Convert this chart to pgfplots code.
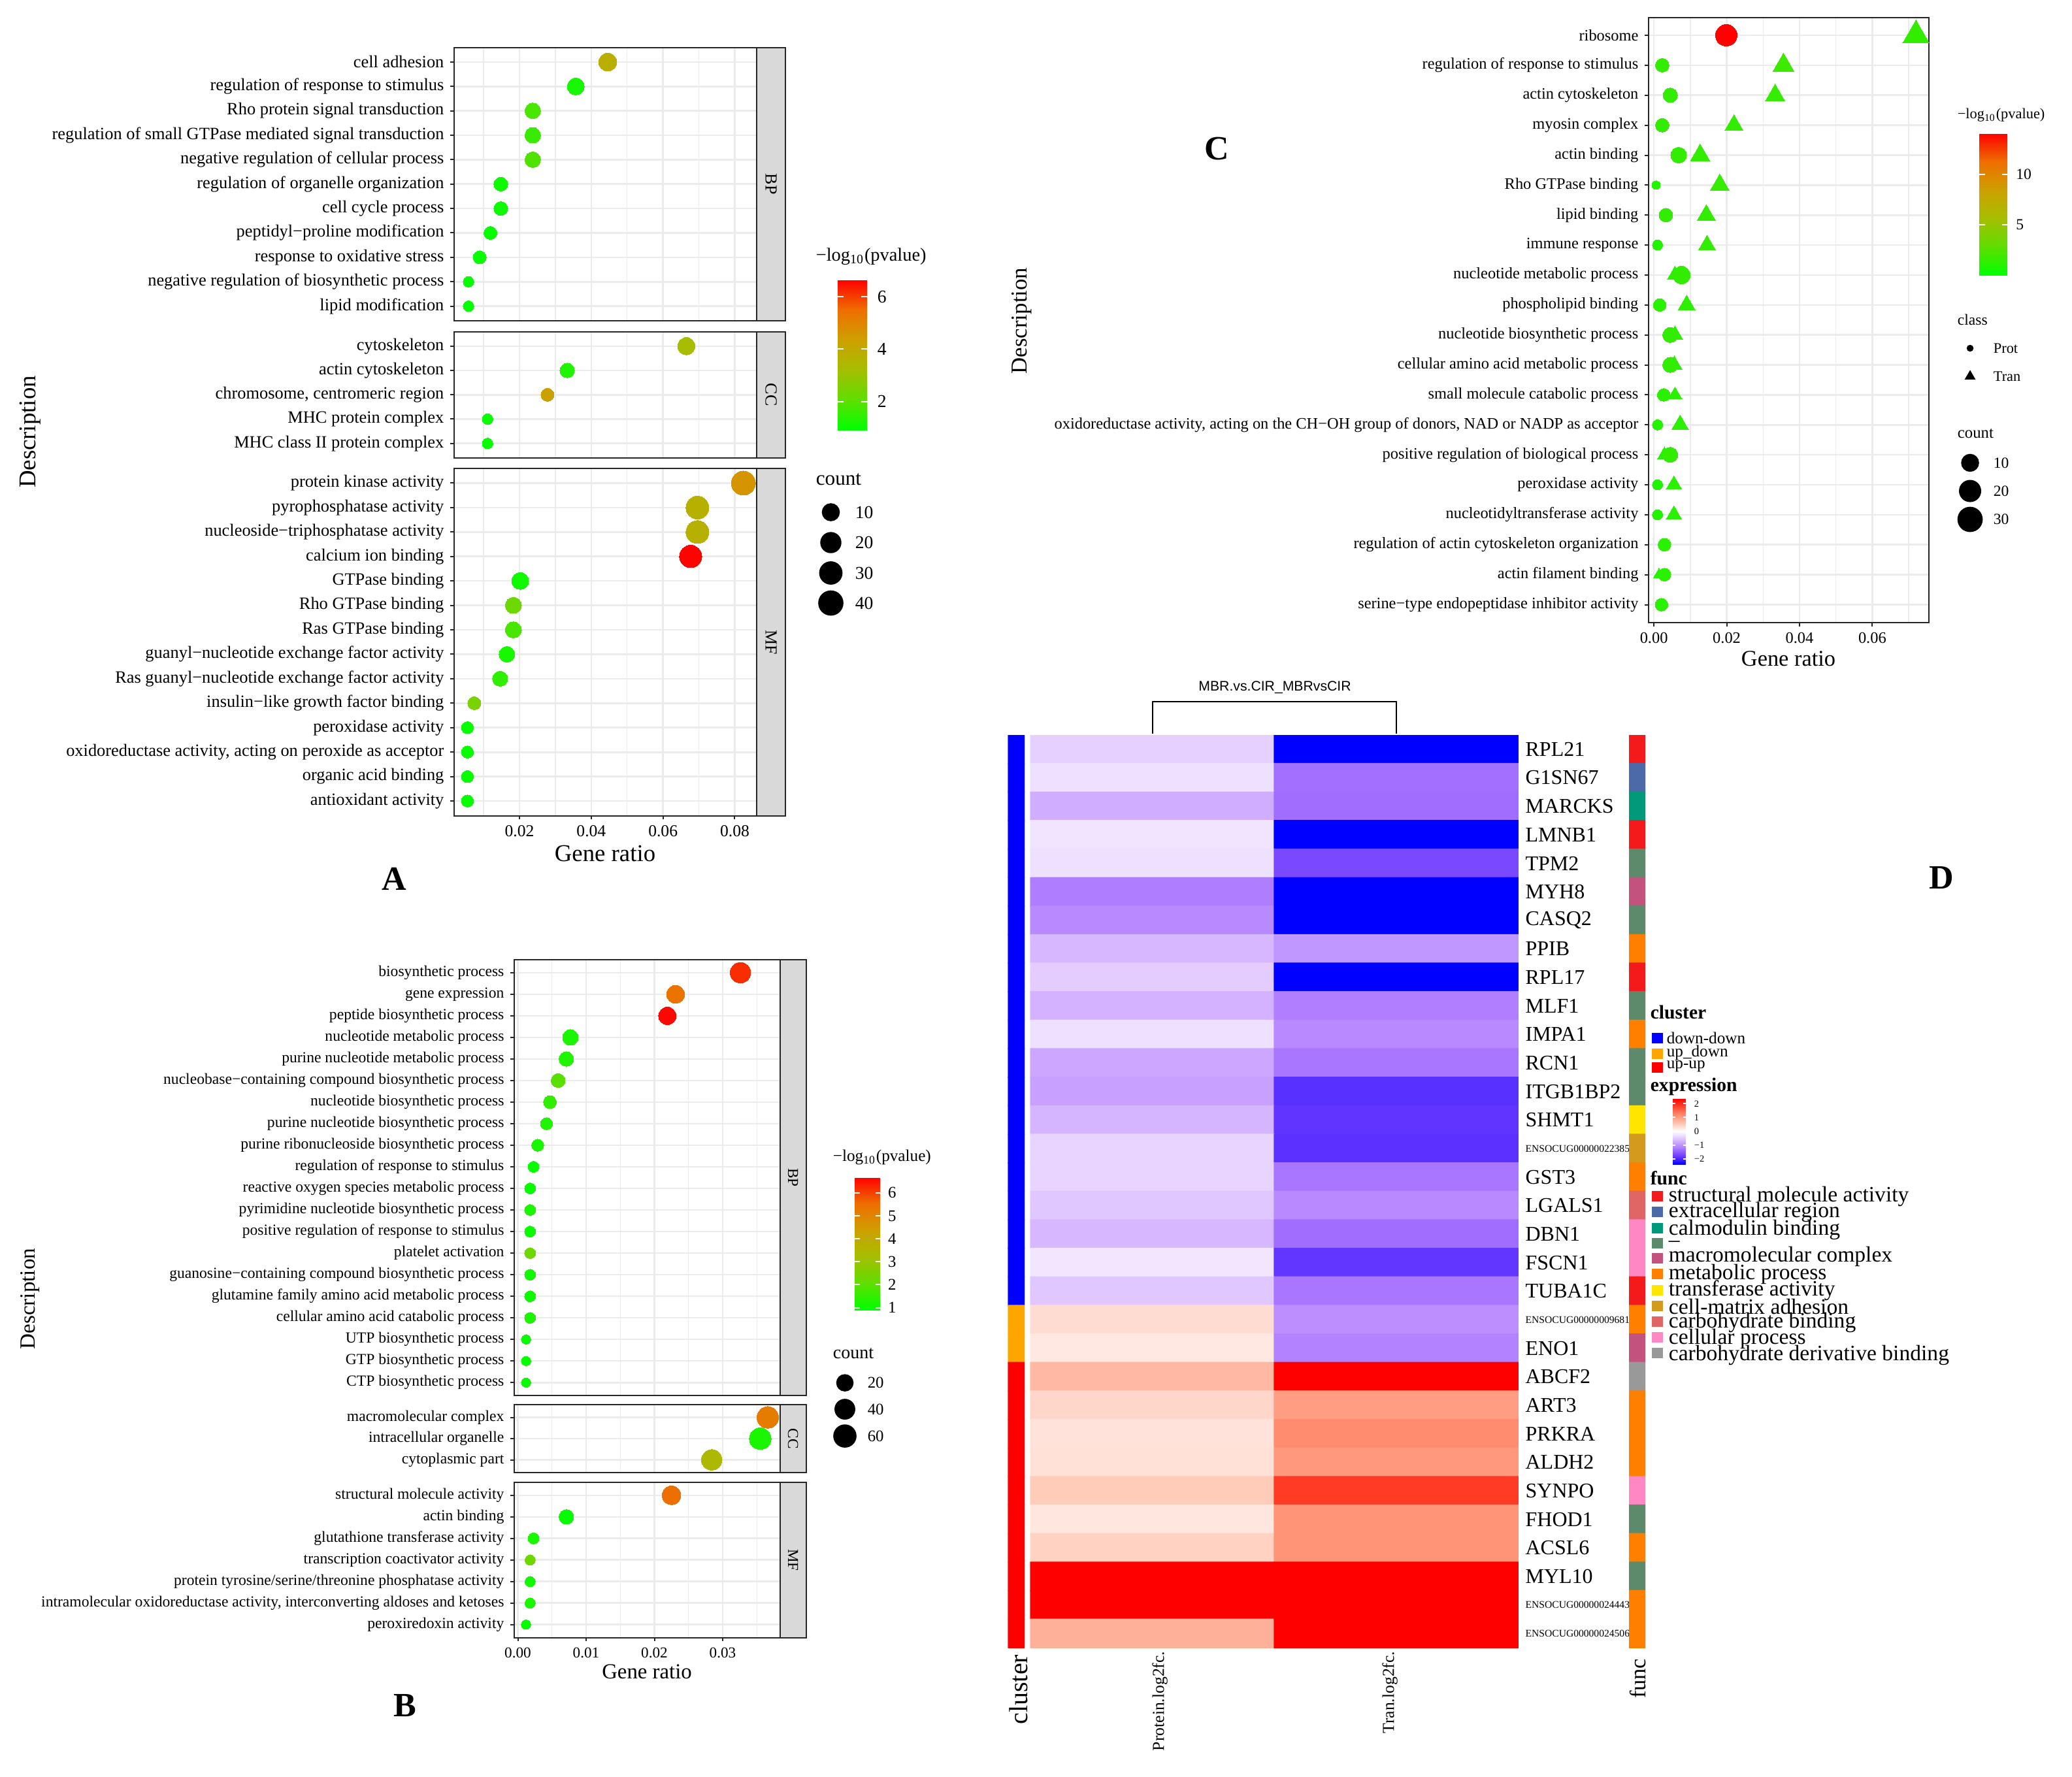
\documentclass[border=0pt]{standalone}
\usepackage{pgfplots}
\usepackage{pgfplotstable}
\pgfplotsset{compat=1.18}
\usepackage{fontspec}
\setmainfont{Liberation Serif}
\newfontfamily\sansf{Liberation Sans}
\newcommand\fs[1]{\fontsize{#1}{#1}\selectfont}
\newcommand\ens{\fs{3.9}}

\definecolor{stripgray}{HTML}{D9D9D9}
\definecolor{gridgray}{HTML}{EBEBEB}
\definecolor{cDown}{HTML}{0000FF}
\definecolor{cUpdown}{HTML}{FFA500}
\definecolor{cUp}{HTML}{FF0000}
\definecolor{fStruct}{HTML}{F41A1C}
\definecolor{fExtra}{HTML}{4D6AA8}
\definecolor{fCalm}{HTML}{00997A}
\definecolor{fDash}{HTML}{5E8A6C}
\definecolor{fMacro}{HTML}{C4527F}
\definecolor{fMeta}{HTML}{FF7F00}
\definecolor{fTrans}{HTML}{FFE500}
\definecolor{fCell}{HTML}{D49A1E}
\definecolor{fCarb}{HTML}{E06666}
\definecolor{fCellp}{HTML}{FF88C4}
\definecolor{fCarbd}{HTML}{999999}

\pgfplotsset{
  scaled ticks=false,
  colormap={hm}{rgb255=(0,0,255) rgb255=(110,60,255) rgb255=(175,125,255) rgb255=(220,190,255)
    rgb255=(255,255,255) rgb255=(255,195,175) rgb255=(255,140,110) rgb255=(255,70,45) rgb255=(255,0,0)},
  colormap={gr}{rgb255=(0,255,0) rgb255=(95,222,0) rgb255=(165,190,0) rgb255=(205,160,0)
    rgb255=(238,110,0) rgb255=(255,0,0)},
  dotpanel/.style={scale only axis, anchor=north west, y dir=reverse, colormap name=gr,
    axis line style={black!85, line width=0.5pt},
    xmajorgrids, xminorgrids, ymajorgrids,
    major grid style={gridgray, line width=0.65pt},
    minor grid style={gridgray, line width=0.35pt},
    tick pos=left, tick align=outside,
    tick style={black!85, line width=0.5pt},
    major tick length=1.4pt, minor tick length=0pt,
    ymin=0.4,
    yticklabel style={inner sep=0pt, xshift=-2.3pt},
    xticklabel style={inner sep=0pt, yshift=-2.2pt}},
  nox/.style={xticklabels={,,,,,}, xtick style={draw=none}},
  dots/.style n args={4}{scatter, only marks, mark=#1, point meta=\thisrow{p},
    scatter/use mapped color={draw=mapped color, fill=mapped color},
    mark options={line width=0pt},
    visualization depends on={\thisrow{n} \as \cnt},
    scatter/@pre marker code/.append style={/tikz/mark size={#4*0.125*(#2+#3*\cnt^0.35)}}},
  cbar/.style={hide axis, scale only axis, anchor=north west, xmin=0, xmax=1, ymin=0, ymax=1, colorbar},
  cbarstyle/.style={at={(parent axis.north west)}, anchor=north west, xshift=0pt,
    axis line style={draw=none}, axis on top, tick align=inside, ytick pos=both,
    yticklabel pos=right, ytick style={white, line width=0.5pt},
    yticklabel style={inner sep=0pt, anchor=west}}
}

% panel A: gene ratio, count, -log10(pvalue)
\pgfplotstableread{
x y n p
0.0446 1 13 3.8
0.0357 2 10 1.2
0.0237 3 7 1.8
0.0237 4 7 1.6
0.0237 5 7 1.9
0.0148 6 4 1.1
0.0148 7 4 1.1
0.0119 8 3 1.0
0.0089 9 3 1.0
0.0058 10 1 1.0
0.0058 11 1 1.0
}\tabAbp
\pgfplotstableread{
x y n p
0.0665 1 11 3.3
0.0333 2 5 1.3
0.0278 3 3 4.3
0.0111 4 1 1.0
0.0111 5 1 1.0
}\tabAcc
\pgfplotstableread{
x y n p
0.0824 1 40 4.6
0.0696 2 33 3.7
0.0696 3 33 3.7
0.0677 4 30 6.6
0.0202 5 10 1.1
0.0183 6 8 2.3
0.0183 7 8 1.8
0.0165 8 7 1.2
0.0146 9 6 1.5
0.0074 10 3 2.5
0.0055 11 2 1.0
0.0055 12 2 1.0
0.0055 13 2 1.0
0.0055 14 2 1.0
}\tabAmf

% panel B
\pgfplotstableread{
x y n p
0.0326 1 46 6.2
0.0231 2 29 5.4
0.0219 3 26 6.6
0.0077 4 17 1.2
0.0071 5 13 1.3
0.0059 6 11 2.0
0.0047 7 8 1.5
0.0042 8 6 1.3
0.0029 9 6 1.2
0.0023 10 4 1.0
0.0018 11 4 1.0
0.0018 12 4 1.2
0.0018 13 4 1.0
0.0018 14 4 2.3
0.0018 15 4 1.1
0.0018 16 4 1.1
0.0018 17 4 1.2
0.0012 18 2 1.0
0.0012 19 2 1.0
0.0012 20 2 1.0
}\tabBbp
\pgfplotstableread{
x y n p
0.0366 1 56 5.2
0.0355 2 56 1.2
0.0284 3 46 3.4
}\tabBcc
\pgfplotstableread{
x y n p
0.0225 1 33 5.5
0.0071 2 13 1.0
0.0023 3 4 1.2
0.0018 4 3 2.3
0.0018 5 3 1.1
0.0018 6 3 1.2
0.0012 7 2 1.0
}\tabBmf

% panel C: Prot (circles) and Tran (triangles)
\pgfplotstableread{
x y n p
0.0199 1 21 14.0
0.0023 2 5 1.5
0.0045 3 6 1.5
0.0023 4 5 1.5
0.0068 5 8 1.5
0.0006 6 1 1.0
0.0033 7 5 1.5
0.0010 8 2 1.0
0.0076 9 11 1.5
0.0016 10 4 1.2
0.0045 11 7 1.5
0.0045 12 7 1.5
0.0027 13 4 1.2
0.0010 14 2 1.0
0.0045 15 7 1.5
0.0010 16 2 1.0
0.0010 17 2 1.0
0.0029 18 4 1.2
0.0029 19 4 1.2
0.0021 20 4 1.2
}\tabCprot
\pgfplotstableread{
x y n p
0.0720 1 16 1.5
0.0356 2 8 1.8
0.0333 3 6 1.6
0.0220 4 5 1.5
0.0127 5 6 1.5
0.0181 6 6 1.6
0.0144 7 5 1.5
0.0146 8 4 1.5
0.0058 9 3 1.2
0.0090 10 4 1.3
0.0058 11 3 1.2
0.0056 12 3 1.2
0.0058 13 2 1.2
0.0072 14 4 1.3
0.0029 15 2 1.0
0.0055 16 3 1.2
0.0055 17 3 1.2
0.0014 19 1 1.0
}\tabCtran

% panel D: log2 fold changes (col 1 protein, col 2 transcript)
\pgfplotstableread{
x y v
1 1 -0.36
2 1 -2
1 2 -0.24
2 2 -1.10
1 3 -0.63
2 3 -1.12
1 4 -0.21
2 4 -2
1 5 -0.24
2 5 -1.41
1 6 -1.00
2 6 -2
1 7 -0.90
2 7 -2
1 8 -0.55
2 8 -0.81
1 9 -0.39
2 9 -2
1 10 -0.59
2 10 -0.99
1 11 -0.24
2 11 -0.90
1 12 -0.68
2 12 -1.05
1 13 -0.72
2 13 -1.60
1 14 -0.57
2 14 -1.56
1 15 -0.33
2 15 -1.59
1 16 -0.33
2 16 -1.05
1 17 -0.43
2 17 -0.90
1 18 -0.55
2 18 -1.12
1 19 -0.19
2 19 -1.55
1 20 -0.43
2 20 -1.05
1 21 0.29
2 21 -0.86
1 22 0.19
2 22 -0.95
1 23 0.60
2 23 2
1 24 0.34
2 24 0.85
1 25 0.24
2 25 1.00
1 26 0.25
2 26 0.89
1 27 0.43
2 27 1.59
1 28 0.21
2 28 0.93
1 29 0.38
2 29 0.93
1 30 2
2 30 2
1 31 2
2 31 2
1 32 0.67
2 32 2
}\tabDhm
\pgfplotstableread{
x y c
1 1 color=cDown
2 1 color=cDown
1 2 color=cDown
2 2 color=cDown
1 3 color=cDown
2 3 color=cDown
1 4 color=cDown
2 4 color=cDown
1 5 color=cDown
2 5 color=cDown
1 6 color=cDown
2 6 color=cDown
1 7 color=cDown
2 7 color=cDown
1 8 color=cDown
2 8 color=cDown
1 9 color=cDown
2 9 color=cDown
1 10 color=cDown
2 10 color=cDown
1 11 color=cDown
2 11 color=cDown
1 12 color=cDown
2 12 color=cDown
1 13 color=cDown
2 13 color=cDown
1 14 color=cDown
2 14 color=cDown
1 15 color=cDown
2 15 color=cDown
1 16 color=cDown
2 16 color=cDown
1 17 color=cDown
2 17 color=cDown
1 18 color=cDown
2 18 color=cDown
1 19 color=cDown
2 19 color=cDown
1 20 color=cDown
2 20 color=cDown
1 21 color=cUpdown
2 21 color=cUpdown
1 22 color=cUpdown
2 22 color=cUpdown
1 23 color=cUp
2 23 color=cUp
1 24 color=cUp
2 24 color=cUp
1 25 color=cUp
2 25 color=cUp
1 26 color=cUp
2 26 color=cUp
1 27 color=cUp
2 27 color=cUp
1 28 color=cUp
2 28 color=cUp
1 29 color=cUp
2 29 color=cUp
1 30 color=cUp
2 30 color=cUp
1 31 color=cUp
2 31 color=cUp
1 32 color=cUp
2 32 color=cUp
}\tabDcl
\pgfplotstableread{
x y c
1 1 color=fStruct
2 1 color=fStruct
1 2 color=fExtra
2 2 color=fExtra
1 3 color=fCalm
2 3 color=fCalm
1 4 color=fStruct
2 4 color=fStruct
1 5 color=fDash
2 5 color=fDash
1 6 color=fMacro
2 6 color=fMacro
1 7 color=fDash
2 7 color=fDash
1 8 color=fMeta
2 8 color=fMeta
1 9 color=fStruct
2 9 color=fStruct
1 10 color=fDash
2 10 color=fDash
1 11 color=fMeta
2 11 color=fMeta
1 12 color=fDash
2 12 color=fDash
1 13 color=fDash
2 13 color=fDash
1 14 color=fTrans
2 14 color=fTrans
1 15 color=fCell
2 15 color=fCell
1 16 color=fMeta
2 16 color=fMeta
1 17 color=fCarb
2 17 color=fCarb
1 18 color=fCellp
2 18 color=fCellp
1 19 color=fCellp
2 19 color=fCellp
1 20 color=fStruct
2 20 color=fStruct
1 21 color=fMeta
2 21 color=fMeta
1 22 color=fMacro
2 22 color=fMacro
1 23 color=fCarbd
2 23 color=fCarbd
1 24 color=fMeta
2 24 color=fMeta
1 25 color=fMeta
2 25 color=fMeta
1 26 color=fMeta
2 26 color=fMeta
1 27 color=fCellp
2 27 color=fCellp
1 28 color=fDash
2 28 color=fDash
1 29 color=fMeta
2 29 color=fMeta
1 30 color=fDash
2 30 color=fDash
1 31 color=fMeta
2 31 color=fMeta
1 32 color=fMeta
2 32 color=fMeta
}\tabDfn

\begin{document}
\begin{tikzpicture}
\path[use as bounding box] (0pt,0pt) rectangle (792.75pt,-680pt);

%% ---------------- A ----------------
\pgfplotsset{Acommon/.style={dotpanel, width=115.75pt, xmin=0.00178, xmax=0.0861,
  xtick={0.02,0.04,0.06,0.08}, minor xtick={0.01,0.03,0.05,0.07},
  point meta min=0.92, point meta max=6.65, yticklabel style={font=\fs{6.6}}}}
\begin{axis}[Acommon, nox, at={(173.75pt,-18.125pt)}, height=104.625pt, ymax=11.6, ytick={1,...,11},
  yticklabels={cell adhesion, regulation of response to stimulus, Rho protein signal transduction,
  regulation of small GTPase mediated signal transduction, negative regulation of cellular process,
  regulation of organelle organization, cell cycle process, peptidyl−proline modification,
  response to oxidative stress, negative regulation of biosynthetic process, lipid modification}]
\addplot[dots={*}{8.4}{7.86}{1}] table {\tabAbp};
\end{axis}
\begin{axis}[Acommon, nox, at={(173.75pt,-126.875pt)}, height=48.375pt, ymax=5.6, ytick={1,...,5},
  yticklabels={cytoskeleton, actin cytoskeleton, {chromosome, centromeric region},
  MHC protein complex, MHC class II protein complex}]
\addplot[dots={*}{8.4}{7.86}{1}] table {\tabAcc};
\end{axis}
\begin{axis}[Acommon, at={(173.75pt,-179.25pt)}, height=132.875pt, ymax=14.6, ytick={1,...,14},
  xticklabels={0.02,0.04,0.06,0.08}, xticklabel style={font=\fs{6.4}},
  yticklabels={protein kinase activity, pyrophosphatase activity, nucleoside−triphosphatase activity,
  calcium ion binding, GTPase binding, Rho GTPase binding, Ras GTPase binding,
  guanyl−nucleotide exchange factor activity, Ras guanyl−nucleotide exchange factor activity,
  insulin−like growth factor binding, peroxidase activity,
  {oxidoreductase activity, acting on peroxide as acceptor}, organic acid binding, antioxidant activity}]
\addplot[dots={*}{8.4}{7.86}{1}] table {\tabAmf};
\end{axis}
\begin{axis}[cbar, at={(312pt,-107pt)}, width=11.25pt, height=57.5pt, colormap name=gr,
  point meta min=0.92, point meta max=6.65,
  colorbar style={cbarstyle, width=11.25pt, height=57.5pt, major tick length=2.2pt,
    ytick={2,4,6}, yticklabels={2,4,6}, yticklabel style={font=\fs{6.9}, xshift=3.7pt}}]
\addplot[draw=none] coordinates {(0,0)};
\end{axis}

%% ---------------- B ----------------
\pgfplotsset{Bcommon/.style={dotpanel, width=101.75pt, xmin=-0.00053, xmax=0.03842,
  xtick={0,0.01,0.02,0.03}, minor xtick={0.005,0.015,0.025,0.035},
  point meta min=0.9, point meta max=6.68, yticklabel style={font=\fs{5.9}}}}
\begin{axis}[Bcommon, nox, at={(196.75pt,-367.25pt)}, height=166.75pt, ymax=20.6, ytick={1,...,20},
  yticklabels={biosynthetic process, gene expression, peptide biosynthetic process,
  nucleotide metabolic process, purine nucleotide metabolic process,
  nucleobase−containing compound biosynthetic process, nucleotide biosynthetic process,
  purine nucleotide biosynthetic process, purine ribonucleoside biosynthetic process,
  regulation of response to stimulus, reactive oxygen species metabolic process,
  pyrimidine nucleotide biosynthetic process, positive regulation of response to stimulus,
  platelet activation, guanosine−containing compound biosynthetic process,
  glutamine family amino acid metabolic process, cellular amino acid catabolic process,
  UTP biosynthetic process, GTP biosynthetic process, CTP biosynthetic process}]
\addplot[dots={*}{5.8}{6.72}{1}] table {\tabBbp};
\end{axis}
\begin{axis}[Bcommon, nox, at={(196.75pt,-537.5pt)}, height=26pt, ymax=3.6, ytick={1,2,3},
  yticklabels={macromolecular complex, intracellular organelle, cytoplasmic part}]
\addplot[dots={*}{5.8}{6.72}{1}] table {\tabBcc};
\end{axis}
\begin{axis}[Bcommon, at={(196.75pt,-567.25pt)}, height=59.375pt, ymax=7.6, ytick={1,...,7},
  xticklabels={0.00,0.01,0.02,0.03}, xticklabel style={font=\fs{5.8}},
  yticklabels={structural molecule activity, actin binding, glutathione transferase activity,
  transcription coactivator activity, protein tyrosine/serine/threonine phosphatase activity,
  {intramolecular oxidoreductase activity, interconverting aldoses and ketoses}, peroxiredoxin activity}]
\addplot[dots={*}{5.8}{6.72}{1}] table {\tabBmf};
\end{axis}
\begin{axis}[cbar, at={(318.5pt,-450.5pt)}, width=9.75pt, height=50.75pt, colormap name=gr,
  point meta min=0.9, point meta max=6.68,
  colorbar style={cbarstyle, width=9.75pt, height=50.75pt, major tick length=1.9pt,
    ytick={1,2,3,4,5,6}, yticklabels={1,2,3,4,5,6}, yticklabel style={font=\fs{6.2}, xshift=2.8pt}}]
\addplot[draw=none] coordinates {(0,0)};
\end{axis}

%% ---------------- C ----------------
\begin{axis}[dotpanel, at={(630.75pt,-6.625pt)}, width=107.125pt, height=231.625pt,
  xmin=-0.00146, xmax=0.07546, ymax=20.6, ytick={1,...,20},
  xtick={0,0.02,0.04,0.06}, xticklabels={0.00,0.02,0.04,0.06}, minor xtick={0.01,0.03,0.05,0.07},
  xticklabel style={font=\fs{6.1}}, yticklabel style={font=\fs{6.1}},
  point meta min=0, point meta max=14.05,
  yticklabels={ribosome, regulation of response to stimulus, actin cytoskeleton, myosin complex,
  actin binding, Rho GTPase binding, lipid binding, immune response, nucleotide metabolic process,
  phospholipid binding, nucleotide biosynthetic process, cellular amino acid metabolic process,
  small molecule catabolic process,
  {oxidoreductase activity, acting on the CH−OH group of donors, NAD or NADP as acceptor},
  positive regulation of biological process, peroxidase activity, nucleotidyltransferase activity,
  regulation of actin cytoskeleton organization, actin filament binding,
  serine−type endopeptidase inhibitor activity}]
\addplot[dots={triangle*}{2.2}{10.6}{1.555}] table {\tabCtran};
\addplot[dots={*}{2.2}{10.6}{1}] table {\tabCprot};
\end{axis}
\begin{axis}[cbar, at={(748.75pt,-51pt)}, width=10.75pt, height=54.25pt, colormap name=gr,
  point meta min=0, point meta max=14.05,
  colorbar style={cbarstyle, width=10.75pt, height=54.25pt, major tick length=2.1pt,
    ytick={5,10}, yticklabels={5,10}, yticklabel style={font=\fs{5.9}, xshift=3.1pt}}]
\addplot[draw=none] coordinates {(0,0)};
\end{axis}

%% ---------------- D ----------------
\begin{axis}[scale only axis, anchor=north west, at={(394.175pt,-281.25pt)},
  width=186.775pt, height=349.25pt, xmin=0.5, xmax=2.5, ymin=0.5, ymax=32.5, y dir=reverse,
  axis line style={draw=none}, major tick length=0pt, xtick=\empty, ytick={1,...,32},
  yticklabel pos=right, yticklabel style={anchor=west, inner sep=0pt, xshift=2.5pt, font=\fs{8}},
  colormap name=hm, point meta min=-2, point meta max=2,
  yticklabels={RPL21, G1SN67, MARCKS, LMNB1, TPM2, MYH8, CASQ2, PPIB, RPL17, MLF1, IMPA1, RCN1,
  ITGB1BP2, SHMT1, {\ens ENSOCUG00000022385}, GST3, LGALS1, DBN1, FSCN1, TUBA1C,
  {\ens ENSOCUG00000009681}, ENO1, ABCF2, ART3, PRKRA, ALDH2, SYNPO, FHOD1, ACSL6, MYL10,
  {\ens ENSOCUG00000024443}, {\ens ENSOCUG00000024506}}]
\addplot[matrix plot*, mesh/cols=2, point meta=explicit] table[meta=v] {\tabDhm};
\end{axis}
\begin{axis}[scale only axis, anchor=north west, at={(385.65pt,-281.25pt)}, width=6.4pt, height=349.25pt,
  xmin=0.5, xmax=2.5, ymin=0.5, ymax=32.5, y dir=reverse, hide axis]
\addplot[matrix plot*, mesh/cols=2, mesh/color input=explicit, point meta=explicit symbolic]
  table[meta=c] {\tabDcl};
\end{axis}
\begin{axis}[scale only axis, anchor=north west, at={(623.25pt,-281.25pt)}, width=6.25pt, height=349.25pt,
  xmin=0.5, xmax=2.5, ymin=0.5, ymax=32.5, y dir=reverse, hide axis]
\addplot[matrix plot*, mesh/cols=2, mesh/color input=explicit, point meta=explicit symbolic]
  table[meta=c] {\tabDfn};
\end{axis}
\begin{axis}[cbar, at={(631.5pt,-420.25pt)}, width=5pt, height=25.25pt, colormap name=hm,
  point meta min=-2.4, point meta max=2.4,
  colorbar style={cbarstyle, width=5pt, height=25.25pt, major tick length=1pt,
    ytick={-2,-1,0,1,2}, yticklabels={−2,−1,0,1,2}, yticklabel style={font=\fs{3.6}, xshift=3pt}}]
\addplot[draw=none] coordinates {(0,0)};
\end{axis}

%% ---------------- overlay: strips, titles, legends ----------------
\begin{axis}[scale only axis, anchor=north west, at={(0pt,0pt)}, width=792.75pt, height=680pt,
  xmin=0, xmax=3171, ymin=0, ymax=2720, y dir=reverse, hide axis, clip=false]
% facet strips
\draw[fill=stripgray, draw=black!85, line width=0.5pt] (axis cs:1158,72.5) rectangle (axis cs:1202,491);
\draw[fill=stripgray, draw=black!85, line width=0.5pt] (axis cs:1158,507.5) rectangle (axis cs:1202,701);
\draw[fill=stripgray, draw=black!85, line width=0.5pt] (axis cs:1158,717) rectangle (axis cs:1202,1248.5);
\node[rotate=-90, font=\fs{6.5}] at (axis cs:1180,281.75) {BP};
\node[rotate=-90, font=\fs{6.5}] at (axis cs:1180,604.25) {CC};
\node[rotate=-90, font=\fs{6.5}] at (axis cs:1180,982.75) {MF};
\draw[fill=stripgray, draw=black!85, line width=0.5pt] (axis cs:1194,1469) rectangle (axis cs:1233.5,2136);
\draw[fill=stripgray, draw=black!85, line width=0.5pt] (axis cs:1194,2150) rectangle (axis cs:1233.5,2254);
\draw[fill=stripgray, draw=black!85, line width=0.5pt] (axis cs:1194,2269) rectangle (axis cs:1233.5,2506.5);
\node[rotate=-90, font=\fs{5.8}] at (axis cs:1213.75,1802.5) {BP};
\node[rotate=-90, font=\fs{5.8}] at (axis cs:1213.75,2202) {CC};
\node[rotate=-90, font=\fs{5.8}] at (axis cs:1213.75,2387.75) {MF};
% axis titles and panel letters
\node[rotate=90, font=\fs{9.2}] at (axis cs:46,661) {Description};
\node[rotate=90, font=\fs{8.3}] at (axis cs:46,1988) {Description};
\node[rotate=90, font=\fs{8.7}] at (axis cs:1564,491) {Description};
\node[font=\fs{9.2}] at (axis cs:926,1306) {Gene ratio};
\node[font=\fs{8.2}] at (axis cs:990,2559) {Gene ratio};
\node[font=\fs{8.6}] at (axis cs:2737,1008) {Gene ratio};
\node[font=\bfseries\fs{13}] at (axis cs:603,1345) {A};
\node[font=\bfseries\fs{13}] at (axis cs:619.5,2610) {B};
\node[font=\bfseries\fs{13}] at (axis cs:1862,227.5) {C};
\node[font=\bfseries\fs{13}] at (axis cs:2971,1343) {D};
% legend A
\node[anchor=west, inner sep=0pt, font=\fs{7.1}] at (axis cs:1248,393) {−log\textsubscript{10}(pvalue)};
\node[anchor=west, inner sep=0pt, font=\fs{7.8}] at (axis cs:1248,733.7) {count};
\addplot[only marks, mark=*, black, mark size=3.25pt] coordinates {(1271.5,784)};
\addplot[only marks, mark=*, black, mark size=3.85pt] coordinates {(1271.5,830.5)};
\addplot[only marks, mark=*, black, mark size=4.27pt] coordinates {(1271.5,877)};
\addplot[only marks, mark=*, black, mark size=4.63pt] coordinates {(1271.5,923)};
\node[anchor=west, inner sep=0pt, font=\fs{6.9}] at (axis cs:1308,784) {10};
\node[anchor=west, inner sep=0pt, font=\fs{6.9}] at (axis cs:1308,830.5) {20};
\node[anchor=west, inner sep=0pt, font=\fs{6.9}] at (axis cs:1308,877) {30};
\node[anchor=west, inner sep=0pt, font=\fs{6.9}] at (axis cs:1308,923) {40};
% legend B
\node[anchor=west, inner sep=0pt, font=\fs{6.3}] at (axis cs:1274,1771.5) {−log\textsubscript{10}(pvalue)};
\node[anchor=west, inner sep=0pt, font=\fs{7}] at (axis cs:1274,2071.5) {count};
\addplot[only marks, mark=*, black, mark size=3.12pt] coordinates {(1293,2116.6)};
\addplot[only marks, mark=*, black, mark size=3.78pt] coordinates {(1293,2157)};
\addplot[only marks, mark=*, black, mark size=4.25pt] coordinates {(1293,2198)};
\node[anchor=west, inner sep=0pt, font=\fs{6.2}] at (axis cs:1327,2116.6) {20};
\node[anchor=west, inner sep=0pt, font=\fs{6.2}] at (axis cs:1327,2157) {40};
\node[anchor=west, inner sep=0pt, font=\fs{6.2}] at (axis cs:1327,2198) {60};
% legend C
\node[anchor=west, inner sep=0pt, font=\fs{5.6}] at (axis cs:2995,176) {−log\textsubscript{10}(pvalue)};
\node[anchor=west, inner sep=0pt, font=\fs{5.9}] at (axis cs:2995,489) {class};
\addplot[only marks, mark=*, black, mark size=1.1pt] coordinates {(3015,533)};
\addplot[only marks, mark=triangle*, black, mark size=2pt] coordinates {(3015,576)};
\node[anchor=west, inner sep=0pt, font=\fs{5.6}] at (axis cs:3050,533) {Prot};
\node[anchor=west, inner sep=0pt, font=\fs{5.6}] at (axis cs:3050,576) {Tran};
\node[anchor=west, inner sep=0pt, font=\fs{6.2}] at (axis cs:2995,664) {count};
\addplot[only marks, mark=*, black, mark size=3.24pt] coordinates {(3015,708.4)};
\addplot[only marks, mark=*, black, mark size=4.05pt] coordinates {(3015,751.5)};
\addplot[only marks, mark=*, black, mark size=4.64pt] coordinates {(3015,795)};
\node[anchor=west, inner sep=0pt, font=\fs{5.9}] at (axis cs:3050,708.4) {10};
\node[anchor=west, inner sep=0pt, font=\fs{5.9}] at (axis cs:3050,751.5) {20};
\node[anchor=west, inner sep=0pt, font=\fs{5.9}] at (axis cs:3050,795) {30};
% D: dendrogram, title, column labels
\addplot[black, line width=0.35pt] coordinates {(1764,1123) (1764,1074) (2137,1074) (2137,1123)};
\node[font=\sansf\fs{5.3}] at (axis cs:1951,1052.5) {MBR.vs.CIR\_MBRvsCIR};
\node[rotate=90, anchor=east, inner sep=0pt, font=\fs{10}] at (axis cs:1558.6,2532) {cluster};
\node[rotate=90, anchor=east, inner sep=0pt, font=\fs{6.4}] at (axis cs:1775,2527) {Protein.log2fc.};
\node[rotate=90, anchor=east, inner sep=0pt, font=\fs{6.4}] at (axis cs:2127,2527) {Tran.log2fc.};
\node[rotate=90, anchor=east, inner sep=0pt, font=\fs{8.6}] at (axis cs:2507,2538) {func};
% D legend
\node[anchor=west, inner sep=0pt, font=\bfseries\fs{7.4}] at (axis cs:2525,1549) {cluster};
\addplot[only marks, mark=square*, cDown, mark size=1.875pt] coordinates {(2536.5,1589)};
\addplot[only marks, mark=square*, cUpdown, mark size=1.875pt] coordinates {(2536.5,1613)};
\addplot[only marks, mark=square*, cUp, mark size=1.875pt] coordinates {(2536.5,1634)};
\node[anchor=west, inner sep=0pt, font=\fs{6.3}] at (axis cs:2550,1589) {down-down};
\node[anchor=west, inner sep=0pt, font=\fs{6.3}] at (axis cs:2550,1611) {up\_down};
\node[anchor=west, inner sep=0pt, font=\fs{6.3}] at (axis cs:2550,1632) {up-up};
\node[anchor=west, inner sep=0pt, font=\bfseries\fs{7.4}] at (axis cs:2525,1663) {expression};
\node[anchor=west, inner sep=0pt, font=\bfseries\fs{7.4}] at (axis cs:2525,1803) {func};
\addplot[only marks, mark=square*, fStruct, mark size=1.875pt] coordinates {(2536.5,1831)};
\addplot[only marks, mark=square*, fExtra, mark size=1.875pt] coordinates {(2536.5,1855)};
\addplot[only marks, mark=square*, fCalm, mark size=1.875pt] coordinates {(2536.5,1880)};
\addplot[only marks, mark=square*, fDash, mark size=1.875pt] coordinates {(2536.5,1903)};
\addplot[only marks, mark=square*, fMacro, mark size=1.875pt] coordinates {(2536.5,1926)};
\addplot[only marks, mark=square*, fMeta, mark size=1.875pt] coordinates {(2536.5,1950)};
\addplot[only marks, mark=square*, fTrans, mark size=1.875pt] coordinates {(2536.5,1975)};
\addplot[only marks, mark=square*, fCell, mark size=1.875pt] coordinates {(2536.5,1999)};
\addplot[only marks, mark=square*, fCarb, mark size=1.875pt] coordinates {(2536.5,2023)};
\addplot[only marks, mark=square*, fCellp, mark size=1.875pt] coordinates {(2536.5,2047)};
\addplot[only marks, mark=square*, fCarbd, mark size=1.875pt] coordinates {(2536.5,2071)};
\node[anchor=west, inner sep=0pt, font=\fs{8.4}] at (axis cs:2553,1831) {structural molecule activity};
\node[anchor=west, inner sep=0pt, font=\fs{8.4}] at (axis cs:2553,1855) {extracellular region};
\node[anchor=west, inner sep=0pt, font=\fs{8.4}] at (axis cs:2553,1882) {calmodulin binding};
\node[anchor=west, inner sep=0pt, font=\fs{8.4}] at (axis cs:2553,1904) {–};
\node[anchor=west, inner sep=0pt, font=\fs{8.4}] at (axis cs:2553,1923) {macromolecular complex};
\node[anchor=west, inner sep=0pt, font=\fs{8.4}] at (axis cs:2553,1950) {metabolic process};
\node[anchor=west, inner sep=0pt, font=\fs{8.4}] at (axis cs:2553,1975) {transferase activity};
\node[anchor=west, inner sep=0pt, font=\fs{8.4}] at (axis cs:2553,2000) {cell-matrix adhesion};
\node[anchor=west, inner sep=0pt, font=\fs{8.4}] at (axis cs:2553,2024) {carbohydrate binding};
\node[anchor=west, inner sep=0pt, font=\fs{8.4}] at (axis cs:2553,2049) {cellular process};
\node[anchor=west, inner sep=0pt, font=\fs{8.4}] at (axis cs:2553,2074) {carbohydrate derivative binding};
\end{axis}
\end{tikzpicture}
\end{document}
